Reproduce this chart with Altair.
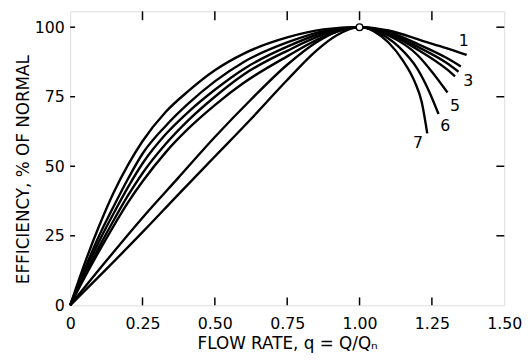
import altair as alt
import pandas as pd

# ---- data ----
curve_ids = ["1", "2", "3", "4", "5", "6", "7"]

c1_x = [0, 0.05, 0.1, 0.15, 0.2, 0.25, 0.33, 0.408, 0.5, 0.6, 0.75, 0.875, 1.0, 1.1, 1.22, 1.3, 1.37]
c1_y = [0, 15, 28.5, 40.5, 50.5, 59, 69.5, 77, 84.5, 90.5, 96.3, 99.2, 100, 98.8, 95, 92.5, 90]

c2_x = [0, 0.05, 0.1, 0.15, 0.2, 0.25, 0.33, 0.408, 0.5, 0.6, 0.75, 0.875, 1.0, 1.1, 1.2, 1.3, 1.35]
c2_y = [0, 13, 25, 35.5, 45.5, 54.5, 64.5, 72.5, 80.5, 87.5, 94.5, 98.6, 100, 98.3, 94, 89, 85.9]

c3_x = [0, 0.05, 0.1, 0.15, 0.2, 0.25, 0.33, 0.408, 0.5, 0.6, 0.75, 0.875, 1.0, 1.1, 1.2, 1.3, 1.342]
c3_y = [0, 12, 23, 33, 42.5, 51, 61.5, 69.5, 77.5, 85, 93, 98, 100, 98, 93, 87.2, 84]

c4_x = [0, 0.05, 0.1, 0.15, 0.2, 0.25, 0.33, 0.408, 0.5, 0.6, 0.75, 0.875, 1.0, 1.1, 1.2, 1.3, 1.33]
c4_y = [0, 11, 21, 30.5, 39.5, 47.5, 58, 66.5, 75, 83, 91.5, 97.3, 100, 97.6, 92, 85, 82.3]

c5_x = [0, 0.05, 0.1, 0.15, 0.2, 0.25, 0.33, 0.408, 0.5, 0.6, 0.75, 0.875, 1.0, 1.1, 1.2, 1.25, 1.304]
c5_y = [0, 10, 19.5, 28.5, 37, 44.5, 55, 63.5, 72, 80, 89.5, 96.5, 100, 97, 90, 84, 76.5]

c6_x = [0, 0.125, 0.25, 0.375, 0.5, 0.625, 0.75, 0.85, 0.92, 1.0, 1.05, 1.135, 1.2, 1.24, 1.273]
c6_y = [0, 16, 31.5, 46, 60.5, 74, 86.5, 94.5, 98.3, 100, 98.8, 93, 85, 77, 68.8]

c7_x = [0, 0.125, 0.25, 0.375, 0.5, 0.625, 0.75, 0.85, 0.92, 1.0, 1.05, 1.1, 1.15, 1.19, 1.215, 1.234]
c7_y = [0, 13, 26.3, 40, 53.5, 67, 81, 91.5, 97, 100, 98.5, 94.5, 88, 80.5, 73, 61.8]

label_text = ["1", "3", "5", "6", "7"]
label_x = [1.36, 1.376, 1.33, 1.296, 1.202]
label_y = [95, 80.8, 71.6, 64.3, 58.2]

peak_x = [1.0]
peak_y = [100]

x_ticks = [0, 0.25, 0.5, 0.75, 1.0, 1.25, 1.5]
y_ticks = [0, 25, 50, 75, 100]
x_inner_ticks = [0.25, 0.5, 0.75, 1.0, 1.25]
y_inner_ticks = [25, 50, 75, 100]

X_DOMAIN = [0, 1.5]
Y_DOMAIN = [0, 105.7]

# ---- tables ----
xs = [c1_x, c2_x, c3_x, c4_x, c5_x, c6_x, c7_x]
ys = [c1_y, c2_y, c3_y, c4_y, c5_y, c6_y, c7_y]
rows = []
for cid, cx, cy in zip(curve_ids, xs, ys):
    for a, b in zip(cx, cy):
        rows.append({"curve": cid, "q": a, "eff": b})
curves = pd.DataFrame(rows)
labels = pd.DataFrame({"t": label_text, "q": label_x, "eff": label_y})
peak = pd.DataFrame({"q": peak_x, "eff": peak_y})
xt = pd.DataFrame({"q": x_inner_ticks})
yt = pd.DataFrame({"eff": y_inner_ticks})

W, H = 440, 298
FONT = "DejaVu Sans"

xscale = alt.Scale(domain=X_DOMAIN, nice=False, zero=False)
yscale = alt.Scale(domain=Y_DOMAIN, nice=False, zero=False)

x_axis = alt.Axis(
    values=x_ticks,
    labelExpr="datum.value == 0 ? '0' : format(datum.value, '.2f')",
    ticks=False, domain=False, grid=False,
    labelFont=FONT, labelFontSize=16, labelColor="black", labelPadding=10,
    labelFlush=False,
    title="FLOW RATE, q = Q/Q\u2099",
    titleFont=FONT, titleFontSize=17, titleFontWeight="normal", titleColor="black",
    titleY=39, titleBaseline="middle",
)
y_axis = alt.Axis(
    values=y_ticks,
    ticks=False, domain=False, grid=False,
    labelFont=FONT, labelFontSize=16, labelColor="black", labelPadding=6,
    labelFlush=False,
    title="EFFICIENCY, % OF NORMAL",
    titleFont=FONT, titleFontSize=17, titleFontWeight="normal", titleColor="black",
    titleX=-47, titleY=160, titleBaseline="middle", titleAlign="center",
)

lines = alt.Chart(curves).mark_line(
    interpolate="monotone", color="black", strokeWidth=2.4
).encode(
    x=alt.X("q:Q", scale=xscale, axis=x_axis),
    y=alt.Y("eff:Q", scale=yscale, axis=y_axis),
    detail="curve:N",
)

pt = alt.Chart(peak).mark_point(
    shape="circle", filled=True, fill="white", stroke="black", strokeWidth=1.5, size=45, opacity=1
).encode(x=alt.X("q:Q", scale=xscale), y=alt.Y("eff:Q", scale=yscale))

txt = alt.Chart(labels).mark_text(
    font=FONT, fontSize=16, color="black", align="center", baseline="middle"
).encode(x=alt.X("q:Q", scale=xscale), y=alt.Y("eff:Q", scale=yscale), text="t:N")

bottom_ticks = alt.Chart(xt).mark_rule(color="black", strokeWidth=1.5).encode(
    x=alt.X("q:Q", scale=xscale), y=alt.value(H), y2=alt.value(H - 8))
top_ticks = alt.Chart(xt).mark_rule(color="black", strokeWidth=1.5).encode(
    x=alt.X("q:Q", scale=xscale), y=alt.value(0), y2=alt.value(9))
right_ticks = alt.Chart(yt).mark_rule(color="black", strokeWidth=1.5).encode(
    y=alt.Y("eff:Q", scale=yscale), x=alt.value(W), x2=alt.value(W - 8))
left_ticks = alt.Chart(yt).mark_rule(color="black", strokeWidth=1.5).encode(
    y=alt.Y("eff:Q", scale=yscale), x=alt.value(0), x2=alt.value(5))

chart = alt.layer(
    bottom_ticks, top_ticks, right_ticks, left_ticks, lines, pt, txt
).properties(
    width=W, height=H,
    autosize=alt.AutoSizeParams(type="none"),
    padding={"left": 63, "top": 1, "right": 18, "bottom": 50},
).configure_view(
    stroke="black", strokeWidth=2
).configure(background="white")

chart.save("out.html", embed_options={"renderer": "svg", "actions": False})
